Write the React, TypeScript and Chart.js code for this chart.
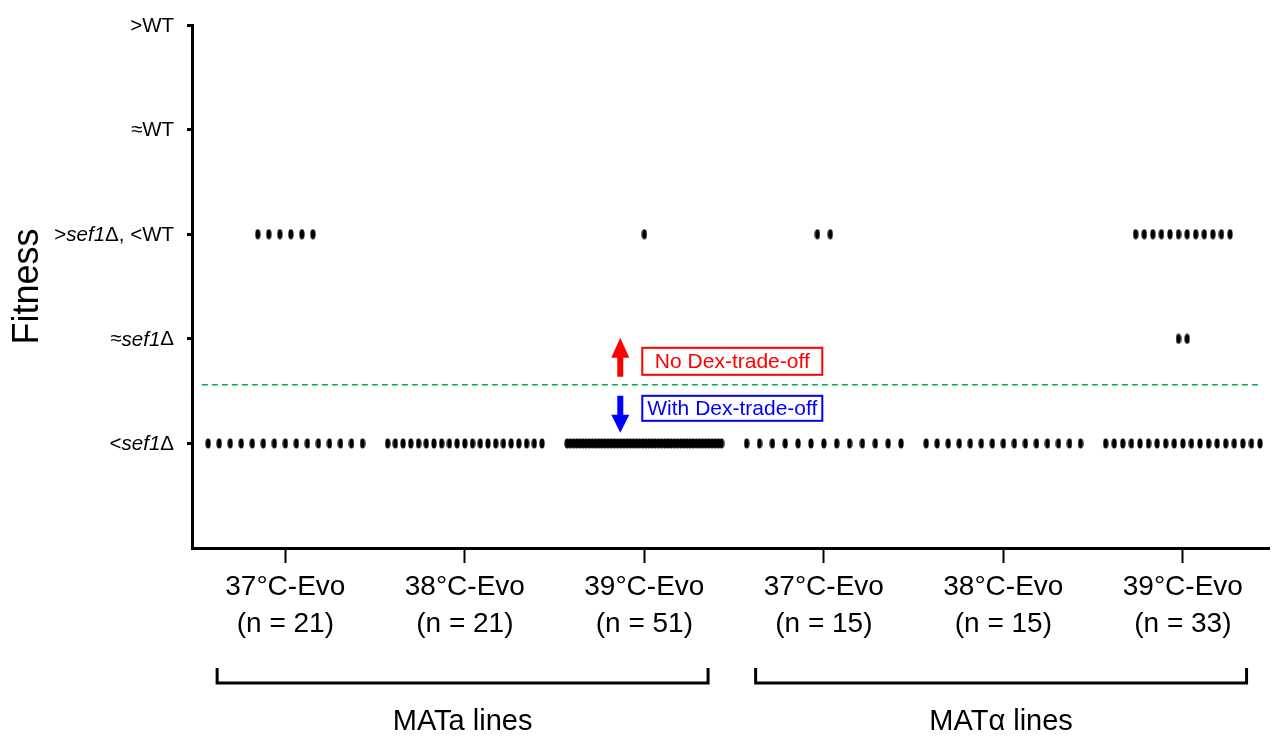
import React, { useEffect, useRef } from 'react';
import { Chart, registerables } from 'chart.js';

Chart.register(...registerables);

// ---- data ----
const categories = ['37°C-Evo', '38°C-Evo', '39°C-Evo', '37°C-Evo', '38°C-Evo', '39°C-Evo'];
const sampleSizes = [21, 21, 51, 15, 15, 33];
const groupNames = ['MATa lines', 'MATα lines'];
const groupSpans = [[1, 3], [4, 6]];
const fitnessLevels = [1, 2, 3, 4, 5];
// number of evolved lines at each fitness level, per category
const countsBelowSef1 = [15, 21, 50, 13, 15, 19];
const countsApproxSef1 = [0, 0, 0, 0, 0, 2];
const countsBetweenSef1AndWT = [6, 0, 1, 2, 0, 12];
const countsApproxWT = [0, 0, 0, 0, 0, 0];
const countsAboveWT = [0, 0, 0, 0, 0, 0];
const tradeOffThreshold = 1.56;
const noTradeOffLabel = 'No Dex-trade-off';
const withTradeOffLabel = 'With Dex-trade-off';
type Seg = [string, boolean];
const yTickLabels: Seg[][] = [
  [['<', false], ['sef1', true], ['Δ', false]],
  [['≈', false], ['sef1', true], ['Δ', false]],
  [['>', false], ['sef1', true], ['Δ', false], [', <WT', false]],
  [['≈WT', false]],
  [['>WT', false]],
];

const FONT = "'Liberation Sans', Arial, Helvetica, sans-serif";
const levelCounts = [countsBelowSef1, countsApproxSef1, countsBetweenSef1AndWT, countsApproxWT, countsAboveWT];
const SPREAD = 0.86;

function buildPoints() {
  const pts: { x: number; y: number }[] = [];
  categories.forEach((_, c) => {
    const maxRow = Math.max(...levelCounts.map((r) => r[c]));
    const step = maxRow > 1 ? SPREAD / (maxRow - 1) : 0;
    levelCounts.forEach((row, li) => {
      const n = row[c];
      for (let i = 0; i < n; i++) {
        pts.push({ x: c + 1 + (i - (n - 1) / 2) * step, y: fitnessLevels[li] });
      }
    });
  });
  return pts;
}

function makeDot() {
  const cv = document.createElement('canvas');
  cv.width = 6;
  cv.height = 11;
  const g = cv.getContext('2d')!;
  g.fillStyle = '#000';
  g.beginPath();
  g.ellipse(3, 5.5, 2.6, 5.1, 0, 0, Math.PI * 2);
  g.fill();
  return cv;
}

const annotationPlugin = {
  id: 'annotations',
  afterDraw(chart: any) {
    const { ctx, chartArea } = chart;
    const xs = chart.scales.x;
    const ys = chart.scales.y;
    ctx.save();

    // custom y tick labels (mixed italic)
    yTickLabels.forEach((segs, i) => {
      const y = ys.getPixelForValue(fitnessLevels[i]);
      const fonts = segs.map(([, it]) => `${it ? 'italic ' : ''}20.5px ${FONT}`);
      let total = 0;
      const widths = segs.map(([t], k) => {
        ctx.font = fonts[k];
        const w = ctx.measureText(t).width;
        total += w;
        return w;
      });
      let x = 174 - total;
      ctx.fillStyle = '#000';
      ctx.textBaseline = 'middle';
      ctx.textAlign = 'left';
      segs.forEach(([t], k) => {
        ctx.font = fonts[k];
        ctx.fillText(t, x, y + 1);
        x += widths[k];
      });
    });

    // threshold dashed line
    const T = ys.getPixelForValue(tradeOffThreshold);
    ctx.strokeStyle = '#00b050';
    ctx.lineWidth = 1.5;
    ctx.setLineDash([6, 4]);
    ctx.beginPath();
    ctx.moveTo(xs.getPixelForValue(0.535), T);
    ctx.lineTo(xs.getPixelForValue(6.44), T);
    ctx.stroke();
    ctx.setLineDash([]);

    // arrows
    const ax = xs.getPixelForValue(2.866);
    const drawArrow = (color: string, tail: number, base: number, tip: number) => {
      ctx.fillStyle = color;
      ctx.beginPath();
      ctx.moveTo(ax - 3, tail);
      ctx.lineTo(ax - 3, base);
      ctx.lineTo(ax - 9, base);
      ctx.lineTo(ax, tip);
      ctx.lineTo(ax + 9, base);
      ctx.lineTo(ax + 3, base);
      ctx.lineTo(ax + 3, tail);
      ctx.closePath();
      ctx.fill();
    };
    drawArrow('#ff0000', T - 8, T - 27, T - 47);
    drawArrow('#0000ff', T + 11, T + 30, T + 48);

    // boxed labels
    const bx = xs.getPixelForValue(3.49);
    const drawBox = (color: string, text: string, top: number, bottom: number) => {
      ctx.strokeStyle = color;
      ctx.lineWidth = 2;
      ctx.strokeRect(bx - 90, top, 180, bottom - top);
      ctx.fillStyle = color;
      ctx.font = `21px ${FONT}`;
      ctx.textAlign = 'center';
      ctx.textBaseline = 'middle';
      ctx.fillText(text, bx, (top + bottom) / 2 + 1);
    };
    drawBox('#ff0000', noTradeOffLabel, T - 37, T - 10);
    drawBox('#0000ff', withTradeOffLabel, T + 11, T + 36);

    // group brackets
    const b = chartArea.bottom;
    ctx.strokeStyle = '#000';
    ctx.lineWidth = 3;
    groupSpans.forEach(([s, e], gi) => {
      const l = xs.getPixelForValue(s - 0.38);
      const r = xs.getPixelForValue(e + 0.355);
      ctx.beginPath();
      ctx.moveTo(l, b + 120);
      ctx.lineTo(l, b + 135);
      ctx.lineTo(r, b + 135);
      ctx.lineTo(r, b + 120);
      ctx.stroke();
      ctx.fillStyle = '#000';
      ctx.font = `29px ${FONT}`;
      ctx.textAlign = 'center';
      ctx.textBaseline = 'middle';
      ctx.fillText(groupNames[gi], (l + r) / 2, b + 174);
    });
    ctx.restore();
  },
};

export default function App() {
  const ref = useRef<HTMLCanvasElement | null>(null);
  useEffect(() => {
    if (!ref.current) return;
    const chart = new Chart(ref.current, {
      type: 'scatter',
      data: {
        datasets: [
          {
            data: buildPoints(),
            pointStyle: makeDot() as any,
            pointRadius: 3,
            backgroundColor: '#000',
            borderColor: '#000',
          },
        ],
      },
      options: {
        animation: false,
        responsive: false,
        events: [],
        layout: { padding: { left: 0, right: 4, top: 25, bottom: 0 } },
        plugins: { legend: { display: false }, tooltip: { enabled: false } },
        scales: {
          x: {
            type: 'linear',
            min: 0.48,
            max: 6.48,
            afterBuildTicks: (s: any) => {
              s.ticks = categories.map((_, i) => ({ value: i + 1 }));
            },
            afterFit: (s: any) => {
              s.height = 191;
            },
            ticks: {
              autoSkip: false,
              maxRotation: 0,
              padding: 6,
              color: '#000',
              font: { family: FONT, size: 28, lineHeight: 1.32 },
              callback: (v: any) => {
                const i = Math.round(Number(v)) - 1;
                return [categories[i], `(n = ${sampleSizes[i]})`];
              },
            },
            grid: {
              display: true,
              drawOnChartArea: false,
              drawTicks: true,
              tickLength: 15,
              tickWidth: 2,
              tickColor: '#000',
            },
            border: { display: true, color: '#000', width: 3 },
          },
          y: {
            type: 'linear',
            min: 0,
            max: 5,
            afterBuildTicks: (s: any) => {
              s.ticks = fitnessLevels.map((v) => ({ value: v }));
            },
            afterFit: (s: any) => {
              s.width = 192;
            },
            ticks: { callback: () => '', padding: 0 },
            grid: {
              display: true,
              drawOnChartArea: false,
              drawTicks: true,
              tickLength: 5,
              tickWidth: 3,
              tickColor: '#000',
            },
            border: { display: true, color: '#000', width: 3 },
            title: {
              display: true,
              text: 'Fitness',
              color: '#000',
              font: { family: FONT, size: 36 },
              padding: { top: 6, bottom: 0 },
            },
          },
        },
      },
      plugins: [annotationPlugin],
    });
    return () => chart.destroy();
  }, []);

  return (
    <div style={{ position: 'fixed', left: 0, top: 0, width: 1274, height: 739, background: '#fff' }}>
      <canvas ref={ref} width={1274} height={739} style={{ display: 'block' }} />
    </div>
  );
}
